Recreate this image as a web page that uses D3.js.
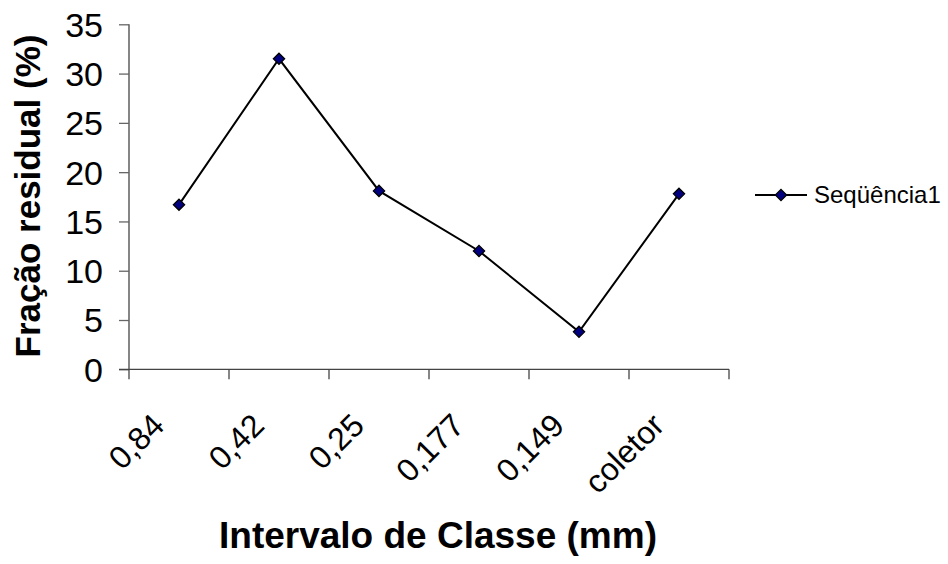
<!DOCTYPE html>
<html><head><meta charset="utf-8">
<script src="https://cdn.jsdelivr.net/npm/d3@7"></script>
<style>body{margin:0;background:#fff}svg{display:block;font-family:"Liberation Sans",Arial,sans-serif}</style>
</head><body><svg id="c" width="948" height="564"></svg>
<script>
const categories = ["0,84","0,42","0,25","0,177","0,149","coletor"];
const values = [16.7, 31.5, 18.1, 12.0, 3.8, 17.8];
const yTicks = [0,5,10,15,20,25,30,35];
const seriesName = "Seqüência1";

const svg = d3.select("#c");
const L = 129, R = 729, T = 24.3, B = 369.3;
const x = d3.scaleBand().domain(categories).range([L, R]);
const y = d3.scaleLinear().domain([0, 35]).range([B, T]);

// y axis
const ya = svg.append("g").attr("transform", `translate(${L},0)`)
  .call(d3.axisLeft(y).tickValues(yTicks).tickSize(10).tickPadding(16));
ya.attr("font-size", null).attr("font-family", null);
ya.select(".domain").attr("stroke", "#444").attr("stroke-width", 1.3).attr("d", `M0,${T}V${B}`);
ya.selectAll(".tick line").attr("stroke", "#666").attr("stroke-width", 1.3);
ya.selectAll(".tick text").style("font-size", "34px").attr("fill", "#000").attr("dy", "0.35em");

// x axis
const xa = svg.append("g").attr("transform", `translate(0,${B})`);
xa.append("path").attr("stroke", "#444").attr("stroke-width", 1.3).attr("fill", "none")
  .attr("d", `M${L-10},0H${R}`);
const edges = categories.map(c => x(c)).concat([R]);
xa.selectAll("line.edge").data(edges).enter().append("line").attr("class", "edge")
  .attr("x1", d => d).attr("x2", d => d).attr("y1", 0).attr("y2", 10)
  .attr("stroke", "#444").attr("stroke-width", 1.3);
svg.append("g").selectAll("text").data(categories).enter().append("text")
  .attr("transform", d => `translate(${x(d) + x.bandwidth()/2 - 13},${B + 58}) rotate(-45)`)
  .attr("text-anchor", "end")
  .style("font-size", "32px").attr("fill", "#000").text(d => d);

// line
const pts = categories.map((c, i) => [x(c) + x.bandwidth()/2, y(values[i])]);
svg.append("path").attr("d", d3.line()(pts)).attr("fill", "none")
  .attr("stroke", "#000").attr("stroke-width", 2);
const diamond = d3.symbol().type(d3.symbolDiamond2).size(80);
svg.append("g").selectAll("path").data(pts).enter().append("path")
  .attr("d", diamond).attr("transform", d => `translate(${d[0]},${d[1]})`)
  .attr("fill", "#000080").attr("stroke", "#000").attr("stroke-width", 1.3);

// titles
svg.append("text").attr("transform", `translate(40,196) rotate(-90)`)
  .attr("text-anchor", "middle").style("font-size", "35px").attr("font-weight", "bold")
  .text("Fração residual (%)");
svg.append("text").attr("x", 438).attr("y", 548)
  .attr("text-anchor", "middle").style("font-size", "37px").attr("font-weight", "bold")
  .text("Intervalo de Classe (mm)");

// legend
const lg = svg.append("g").attr("transform", "translate(755,195)");
lg.append("line").attr("x1", 0).attr("x2", 52).attr("stroke", "#000").attr("stroke-width", 2);
lg.append("path").attr("d", diamond).attr("transform", "translate(26,0)")
  .attr("fill", "#000080").attr("stroke", "#000").attr("stroke-width", 1.3);
lg.append("text").attr("x", 59).attr("dy", "0.35em").style("font-size", "24px").text(seriesName);
</script></body></html>
